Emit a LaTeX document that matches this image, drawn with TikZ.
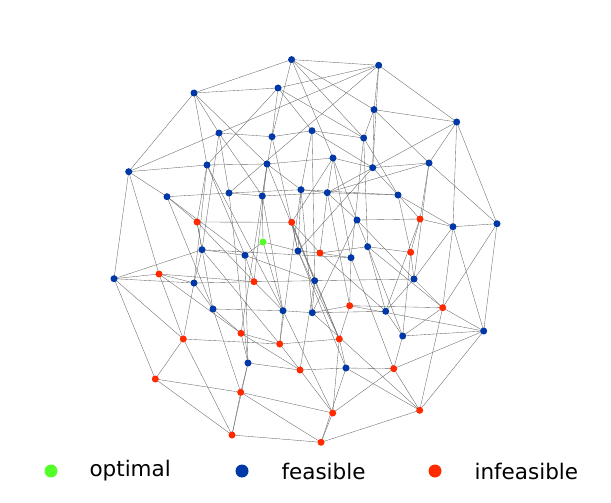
\documentclass[tikz,border=0pt]{standalone}
\usepackage{fontspec}
\setmainfont{DejaVu Sans}
\definecolor{optcol}{RGB}{85,255,42}
\definecolor{feascol}{RGB}{0,56,168}
\definecolor{infcol}{RGB}{255,42,0}
\tikzset{
  vert/.style={circle,inner sep=0pt,minimum size=7pt},
  opt/.style={vert,fill=optcol},
  feas/.style={vert,fill=feascol},
  inf/.style={vert,fill=infcol},
  link/.style={draw=black!60,line width=0.35pt},
  legtext/.style={anchor=west,font=\fontsize{21.5}{24}\selectfont}
}
\begin{document}
\begin{tikzpicture}[x=1pt,y=-1pt]
\useasboundingbox (0,0) rectangle (611,503);
% feasible nodes
\foreach \n/\x/\y in {b1/291.6/59.6,b2/378.7/65.3,b3/194/93,b4/278/88,b5/374/109.6,b6/456.7/122,
  b7/219/133,b8/272/136.7,b9/312/130.7,b10/363.7/138,b11/128.7/171.7,b12/207/165,b13/267/164,
  b14/333/158,b15/372.7/167.7,b16/429/163,b17/167/196.7,b18/229/193,b19/262.3/196,b20/301/189.7,
  b21/327.3/192.7,b22/398/195,b23/357/220,b24/453/226.7,b25/497/223.7,b26/202/249.7,b27/245/255.3,
  b28/298/251,b29/367.7/246.7,b30/351/257.7,b31/114/278.7,b32/194/283,b33/314.7/280.7,b34/414/279,
  b35/213/309,b36/283/310.7,b37/312.3/312.7,b38/385.7/311.3,b39/402.7/336,b40/483.7/331,
  b41/248/363,b42/346/368}
  \coordinate (\n) at (\x,\y);
% infeasible nodes
\foreach \n/\x/\y in {r1/197/222,r2/291.7/222.3,r3/420/219,r4/320/253,r5/410.7/252.3,r6/159/274,
  r7/254/281.7,r8/349.7/305.7,r9/442.7/307.7,r10/241/333.3,r11/183.3/339,r12/279.7/344,
  r13/339.3/339,r14/300/370,r15/393.7/368.7,r16/155.3/379,r17/240.7/392.3,r18/332.7/413,
  r19/419.7/410.3,r20/232/435,r21/321/442.3}
  \coordinate (\n) at (\x,\y);
\coordinate (g) at (263,242);
% edges
\foreach \a/\b in {b1/b2,b2/b6,b6/b25,b25/b40,b40/r19,r19/r21,r21/r20,r20/r16,r16/b31,b31/b11,
  b11/b3,b3/b1,b3/b4,b4/b2,b1/b5,b2/b5,b5/b6,b6/b16,b16/b25,b6/b24,b25/b24,b25/r9,b40/r9,
  b40/r15,r19/r15,r19/r9,r21/r18,r21/r17,r20/r17,r20/r11,r16/r11,r16/r17,b31/r6,b31/b32,
  b31/r11,b11/b17,b11/b12,b3/b7,b3/b12,b3/b13,b4/b8,b4/b9,b4/b10,b1/b8,b1/b14,b2/b15,b2/b18,
  b5/b10,b5/b15,b5/b16,b6/b21,b7/b8,b7/b18,b7/b26,b8/b9,b8/b19,b9/b10,b9/b15,b10/b22,b12/b13,
  b12/r1,b12/b32,b13/b14,b13/b19,b13/b20,b14/b15,b14/r2,b14/b23,b15/b16,b15/b22,b16/r3,
  b16/b21,b17/b18,b17/r1,b17/b35,b18/b19,b18/b20,b19/b21,b19/g,b20/b21,b20/b22,b21/b22,
  b20/b28,b21/b23,b22/r3,b22/b24,b23/r3,b23/b29,b24/r3,b24/b34,r1/r2,r1/b26,r1/r7,r2/r4,
  r2/b28,r2/b33,r3/r5,g/b28,g/b27,g/b36,b26/b27,b26/b30,b26/b32,b27/r7,b27/b33,b28/r4,r4/b30,
  r4/b29,b29/r5,b29/b38,b30/r8,r5/b34,r5/b39,r6/r7,r6/b32,r6/r10,b32/b35,b32/r11,r7/b33,
  r7/b36,b33/b34,b33/b37,b33/r13,b34/r9,b34/b38,b35/b36,b35/r10,b36/b37,b36/r12,b37/r8,
  b37/b38,r8/r9,r8/r13,b38/b39,b39/r15,r9/b39,r10/r12,r10/b41,r11/r12,r12/r14,r12/r13,
  r13/b42,r13/r18,b41/r14,b41/r17,r14/b42,r14/r18,b42/r15,b42/r19,r15/r18,r17/r18,r20/b41,
  r21/b42,b40/b39,b31/b26,b11/b7,b8/b28,b9/b33,b10/b30,b13/r7,b12/b27,b19/b36,b20/r12,
  b21/r4,b29/r9,b23/b37,r3/b38,b24/b40,b35/r17,r10/r14,b28/r13,b14/b30,b18/b41,
  b1/b10,b2/b7,b4/b12,b9/b20,b10/b29,b16/b34,b15/b28,b11/r6,b17/b27,b12/b36,b13/b33,
  b19/r10,b20/b37,b21/r8,b22/r5,b23/b34,b24/r9,b26/r12,b27/b41,b28/b42,b30/r15,b32/r7,
  r1/b35,r2/r13,r4/b38,b29/b39,r6/r11,b33/r14,b36/r18,b37/r19,r8/b40,b7/b19,b14/b21}
  \draw[link] (\a) -- (\b);
% node discs
\foreach \n in {b1,b2,b3,b4,b5,b6,b7,b8,b9,b10,b11,b12,b13,b14,b15,b16,b17,b18,b19,b20,b21,
  b22,b23,b24,b25,b26,b27,b28,b29,b30,b31,b32,b33,b34,b35,b36,b37,b38,b39,b40,b41,b42}
  \node[feas] at (\n) {};
\foreach \n in {r1,r2,r3,r4,r5,r6,r7,r8,r9,r10,r11,r12,r13,r14,r15,r16,r17,r18,r19,r20,r21}
  \node[inf] at (\n) {};
\node[opt] at (g) {};
% legend
\node[opt,minimum size=13pt] (lopt) at (51,471) {};
\node[legtext] at (86,471) {optimal};
\node[feas,minimum size=13pt] (lfeas) at (242,471) {};
\node[legtext] at (278,471) {feasible};
\node[inf,minimum size=13pt] (linf) at (435,471) {};
\node[legtext] at (471,471) {infeasible};
\end{tikzpicture}
\end{document}
